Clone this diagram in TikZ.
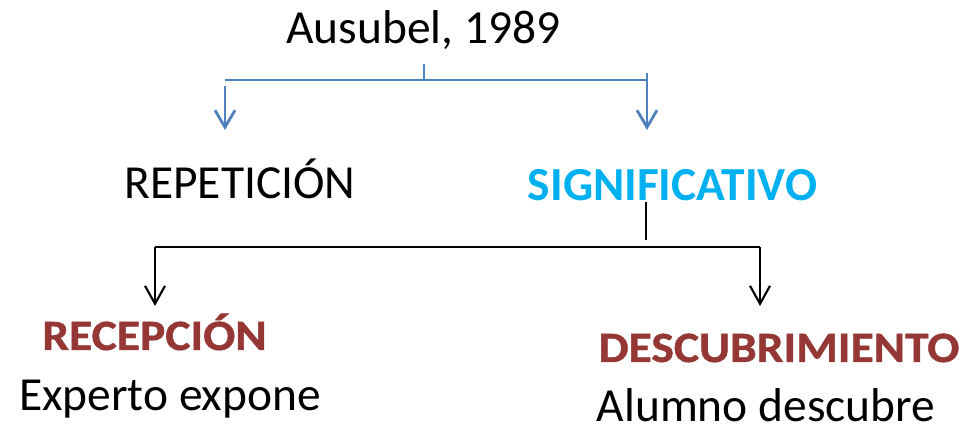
\documentclass[tikz,border=0pt]{standalone}
\usepackage{fontspec}
\setmainfont{Carlito}
\newfontfamily\widefont{Carlito}[FakeStretch=1.1,FakeBold=1]
\usetikzlibrary{arrows.meta}
\definecolor{lineblue}{HTML}{4F81BD}
\definecolor{sigblue}{HTML}{00B0F0}
\definecolor{wordred}{HTML}{953735}
\tikzset{
  word/.style={anchor=base,inner sep=0pt,font=\fontsize{13.5}{16}\selectfont},
  redword/.style={anchor=base,inner sep=0pt,text=wordred,font=\fontsize{12.3}{14}\widefont\bfseries},
  blueline/.style={lineblue,line width=.8pt},
  blackline/.style={black,line width=.6pt},
}
\begin{document}
\begin{tikzpicture}
\useasboundingbox (0,0) rectangle (9.74,4.31);
%labels
\node[word] (ausubel) at (4.235,3.87) {Ausubel, 1989};
\node[word] (repeticion) at (2.40,2.32) {REPETICIÓN};
\node[word,text=sigblue,font=\fontsize{13.5}{16}\selectfont\bfseries] (significativo) at (6.725,2.30) {SIGNIFICATIVO};
\node[redword] (recepcion) at (1.545,0.81) {RECEPCIÓN};
\node[word] (experto) at (1.70,0.20) {Experto expone};
\node[redword] (descubrimiento) at (7.79,0.69) {DESCUBRIMIENTO};
\node[word] (alumno) at (7.66,0.09) {Alumno descubre};
%first split
\coordinate (atop) at (4.24,3.67);
\coordinate (abar) at (4.24,3.51);
\coordinate (al) at (2.25,3.51);
\coordinate (ar) at (6.47,3.51);
\coordinate (aend) at (0,3.01);
\draw[blueline] (atop)--(abar);
\draw[blueline] (al)--(ar);
\draw[blueline,-{Straight Barb[length=1.7mm,width=2mm]}] ([yshift=-.6mm]al)--(al |- aend);
\draw[blueline,-{Straight Barb[length=1.7mm,width=2mm]}] ([yshift=.7mm]ar)--(ar |- aend);
%second split
\coordinate (btop) at (6.46,1.91);
\coordinate (bl) at (1.55,1.84);
\coordinate (br) at (7.60,1.84);
\coordinate (bend) at (0,1.25);
\draw[blackline] (significativo.south -| btop)--(btop);
\draw[blackline] (bl)--(br);
\foreach \p in {bl,br}{
\draw[blackline,-{Straight Barb[length=1.8mm,width=2mm]}] (\p)--(\p |- bend);
}
\end{tikzpicture}
\end{document}
